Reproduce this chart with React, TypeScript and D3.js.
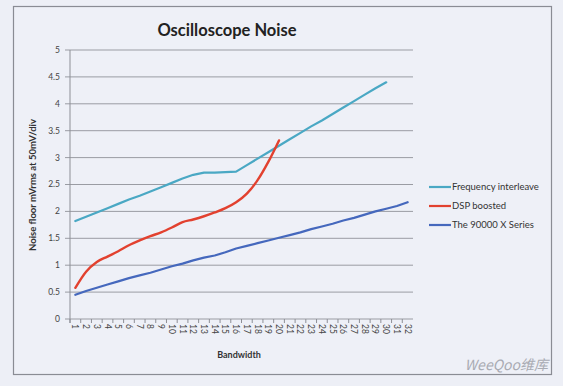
import React, { useEffect, useRef } from 'react';
import * as d3 from 'd3';

const categories = Array.from({ length: 32 }, (_, i) => String(i + 1));

const freqInterleave = [
  1.82, 1.9, 1.98, 2.06, 2.14, 2.22, 2.29, 2.37, 2.45, 2.53, 2.61, 2.68, 2.72, 2.72, 2.73,
  2.74, 2.86, 2.98, 3.1, 3.22, 3.34, 3.46, 3.58, 3.69, 3.81, 3.93, 4.05, 4.17, 4.29, 4.4,
];

const dspBoosted = [
  0.58, 0.88, 1.06, 1.16, 1.26, 1.37, 1.46, 1.54, 1.61, 1.7, 1.8, 1.85, 1.91, 1.98, 2.06,
  2.17, 2.33, 2.58, 2.92, 3.32,
];

const series90000 = [
  0.45, 0.52, 0.58, 0.64, 0.7, 0.76, 0.81, 0.86, 0.92, 0.98, 1.03, 1.09, 1.14, 1.18, 1.24,
  1.31, 1.36, 1.41, 1.46, 1.51, 1.56, 1.61, 1.67, 1.72, 1.77, 1.83, 1.88, 1.94, 2.0, 2.05,
  2.1, 2.17,
];

const yTicks = [0, 0.5, 1, 1.5, 2, 2.5, 3, 3.5, 4, 4.5, 5];

const seriesNames = ['Frequency interleave', 'DSP boosted', 'The 90000 X Series'];

const App = () => {
  const svgRef = useRef<SVGSVGElement>(null);

  useEffect(() => {
    const width = 563;
    const height = 386;
    const svg = d3.select(svgRef.current);
    svg.selectAll('*').remove();
    svg.attr('width', width).attr('height', height);

    const font = 'Lato, "Open Sans", sans-serif';

    // background + outer chart border
    svg.append('rect').attr('width', width).attr('height', height).attr('fill', '#edeff6');
    svg.append('rect')
      .attr('x', 13.5).attr('y', 6.5)
      .attr('width', 538).attr('height', 368)
      .attr('fill', '#eef0f7')
      .attr('stroke', '#8a8c94')
      .attr('stroke-width', 1.2);

    const x = d3.scaleBand().domain(categories).range([70, 413]);
    const y = d3.scaleLinear().domain([0, 5]).range([319, 50]);

    // horizontal grid lines
    svg.append('g')
      .selectAll('line')
      .data(yTicks)
      .enter().append('line')
      .attr('x1', 65).attr('x2', 413)
      .attr('y1', d => y(d)).attr('y2', d => y(d))
      .attr('stroke', '#9a9ca3')
      .attr('stroke-width', 1);

    // y axis line
    svg.append('line')
      .attr('x1', 70).attr('x2', 70)
      .attr('y1', y(5)).attr('y2', y(0) + 4)
      .attr('stroke', '#8d8f96');

    // y tick labels
    svg.append('g')
      .selectAll('text')
      .data(yTicks)
      .enter().append('text')
      .attr('x', 60)
      .attr('y', d => y(d))
      .attr('dy', '0.35em')
      .attr('text-anchor', 'end')
      .style('font-family', font)
      .style('font-size', '8.5px')
      .style('fill', '#444')
      .text(d => String(d));

    // x tick marks
    svg.append('g')
      .selectAll('line')
      .data(categories)
      .enter().append('line')
      .attr('x1', d => (x(d) as number))
      .attr('x2', d => (x(d) as number))
      .attr('y1', y(0)).attr('y2', y(0) + 4)
      .attr('stroke', '#8d8f96');

    // x tick labels (rotated clockwise)
    svg.append('g')
      .selectAll('text')
      .data(categories)
      .enter().append('text')
      .attr('transform', d => `translate(${(x(d) as number) + x.bandwidth() / 2 - 3},324) rotate(90)`)
      .attr('text-anchor', 'start')
      .style('font-family', font)
      .style('font-size', '8.5px')
      .style('fill', '#444')
      .text(d => d);

    // titles
    svg.append('text')
      .attr('x', 227).attr('y', 36)
      .attr('text-anchor', 'middle')
      .style('font-family', font)
      .style('font-size', '16.5px')
      .style('font-weight', '700')
      .style('fill', '#222')
      .text('Oscilloscope Noise');

    svg.append('text')
      .attr('transform', 'translate(36,185) rotate(-90)')
      .attr('text-anchor', 'middle')
      .style('font-family', font)
      .style('font-size', '9.5px')
      .style('font-weight', '700')
      .style('fill', '#333')
      .text('Noise floor mVrms at 50mV/div');

    svg.append('text')
      .attr('x', 239).attr('y', 358)
      .attr('text-anchor', 'middle')
      .style('font-family', font)
      .style('font-size', '9px')
      .style('font-weight', '700')
      .style('fill', '#333')
      .text('Bandwidth');

    const px = (i: number) => (x(categories[i]) as number) + x.bandwidth() / 2;

    const straight = d3.line<number>()
      .x((_, i) => px(i))
      .y(d => y(d));

    const smooth = d3.line<number>()
      .x((_, i) => px(i))
      .y(d => y(d))
      .curve(d3.curveMonotoneX);

    const seriesData = [
      { name: seriesNames[0], values: freqInterleave, color: '#4aa8c4', gen: straight, w: 2.2 },
      { name: seriesNames[1], values: dspBoosted, color: '#e2412f', gen: smooth, w: 2.4 },
      { name: seriesNames[2], values: series90000, color: '#4568bd', gen: straight, w: 2.2 },
    ];

    svg.append('g')
      .selectAll('path')
      .data(seriesData)
      .enter().append('path')
      .attr('d', d => d.gen(d.values))
      .attr('fill', 'none')
      .attr('stroke', d => d.color)
      .attr('stroke-width', d => d.w)
      .attr('stroke-linejoin', 'round')
      .attr('stroke-linecap', 'round');

    // legend
    const legend = svg.append('g').attr('transform', 'translate(429,187)');
    const items = legend.selectAll('g')
      .data(seriesData)
      .enter().append('g')
      .attr('transform', (_, i) => `translate(0,${i * 19})`);

    items.append('line')
      .attr('x1', 0).attr('x2', 22)
      .attr('stroke', d => d.color)
      .attr('stroke-width', 2.2);

    items.append('text')
      .attr('x', 23)
      .attr('dy', '0.35em')
      .style('font-family', font)
      .style('font-size', '9.5px')
      .style('fill', '#333')
      .text(d => d.name);

    // watermark
    svg.append('text')
      .attr('x', 548).attr('y', 370)
      .attr('text-anchor', 'end')
      .style('font-family', '"Noto Sans CJK SC", sans-serif')
      .style('font-size', '14px')
      .style('font-style', 'italic')
      .style('fill', '#a9abb3')
      .text('WeeQoo维库');
  }, []);

  return (
    <div>
      <style>{`body { margin: 0; }`}</style>
      <svg ref={svgRef} style={{ display: 'block' }}></svg>
    </div>
  );
};

export default App;
